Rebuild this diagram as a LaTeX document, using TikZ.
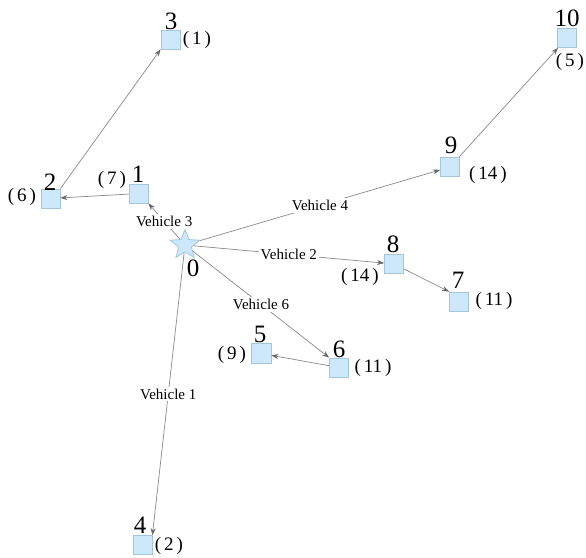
\documentclass[tikz,border=0pt]{standalone}
\usepackage{fontspec}
\setmainfont{Liberation Serif}
\newfontfamily\tnr{Liberation Serif}
\usetikzlibrary{shapes.geometric,arrows.meta}
\definecolor{boxfill}{HTML}{CDE8FB}
\definecolor{boxline}{HTML}{A3C6DC}
\definecolor{edgecol}{HTML}{8A8A8A}
\definecolor{tipcol}{HTML}{666666}
\newcommand\dmd[1]{(\hspace{3pt}#1\hspace{3pt})}
\begin{document}
\begin{tikzpicture}[x=1pt,y=-1pt,
  cust/.style={draw=boxline, fill=boxfill, minimum size=19pt, inner sep=0pt, line width=0.8pt},
  depot/.style={star, star points=5, star point ratio=2.3, draw=boxline, fill=boxfill, minimum size=31pt, inner sep=0pt, line width=0.8pt},
  num/.style={font=\tnr\fontsize{25}{25}\selectfont, inner sep=0pt},
  dem/.style={font=\tnr\fontsize{19}{19}\selectfont, inner sep=0pt},
  veh/.style={font=\tnr\fontsize{15}{15}\selectfont, fill=white, inner sep=2pt},
  route/.style={draw=edgecol, line width=0.7pt, -{Stealth[length=7pt,width=5pt,color=tipcol]}}
]
\useasboundingbox (0,0) rectangle (586,557);
\fill[white] (0,0) rectangle (586,557);

\node[depot] (n0) at (185,245) {};
\node[cust] (n1) at (138.5,193.5) {};
\node[cust] (n2) at (50.5,198.5) {};
\node[cust] (n3) at (170.5,39.5) {};
\node[cust] (n4) at (142.5,545) {};
\node[cust,minimum size=20pt] (n5) at (261,353.5) {};
\node[cust] (n6) at (339,367.5) {};
\node[cust] (n7) at (459,301.5) {};
\node[cust] (n8) at (394,264) {};
\node[cust] (n9) at (450,167) {};
\node[cust] (n10) at (567,38) {};

\node[num] (l0) at (193,268) {0};
\node[num] (l1) at (138,174) {1};
\node[num] (l2) at (50,182) {2};
\node[num] (l3) at (171,21) {3};
\node[num] (l4) at (140,525) {4};
\node[num] (l5) at (260,334) {5};
\node[num] (l6) at (339,349) {6};
\node[num] (l7) at (458,280) {7};
\node[num] (l8) at (393,244) {8};
\node[num] (l9) at (451,145) {9};
\node[num] (l10) at (567,18) {10};

\node[dem] (d1) at (112,180) {\dmd{7}};
\node[dem] (d2) at (22,197) {\dmd{6}};
\node[dem] (d3) at (197,40) {\dmd{1}};
\node[dem] (d4) at (169,546) {\dmd{2}};
\node[dem] (d5) at (232,355) {\dmd{9}};
\node[dem] (d6) at (373,368) {\dmd{11}};
\node[dem] (d7) at (494,301) {\dmd{11}};
\node[dem] (d8) at (360,277) {\dmd{14}};
\node[dem] (d9) at (488,175) {\dmd{14}};
\node[dem] (d10) at (570,62) {\dmd{5}};

\draw[route] (n0) -- node[veh]{Vehicle 3} (n1.south east);
\draw[route] (n1) -- (n2);
\draw[route] (n2.north east) -- (n3.south west);
\draw[route] (n0) -- node[veh]{Vehicle 4} (n9);
\draw[route] (n9) -- (n10);
\draw[route] (n0) -- node[veh]{Vehicle 2} (n8);
\draw[route] (n8) -- (n7.north west);
\draw[route] (n0) -- node[veh]{Vehicle 6} (n6.north west);
\draw[route] (n6) -- (n5);
\draw[route] (n0) -- node[veh]{Vehicle 1} (n4.north east);
\end{tikzpicture}
\end{document}
